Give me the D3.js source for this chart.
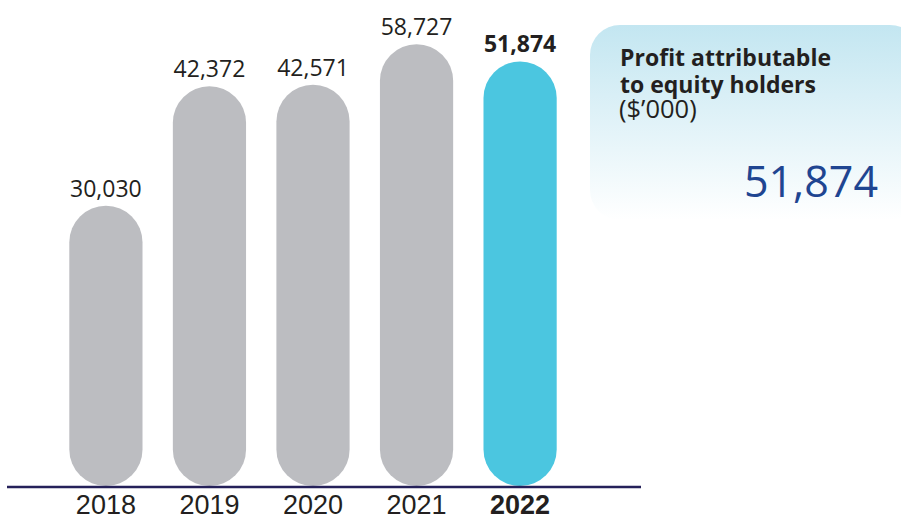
<!DOCTYPE html>
<html>
<head>
<meta charset="utf-8">
<script src="https://cdn.jsdelivr.net/npm/d3@7"></script>
<style>
  body { margin: 0; background: #fff; }
</style>
</head>
<body>
<script>
'use strict'

let width = 901
let height = 520

// data
let years = ["2018", "2019", "2020", "2021", "2022"]
let profits = [30030, 42372, 42571, 58727, 51874]
let currentYear = "2022"
let boxTitle = ["Profit attributable", "to equity holders"]
let boxUnit = "($\u2019000)"
let boxValue = 51874

let baseY = 486
let fmt = d3.format(",")

let svg = d3.select("body").append("svg")
  .attr("width", width)
  .attr("height", height)

// gradient for the info box
let defs = svg.append("defs")
let grad = defs.append("linearGradient")
  .attr("id", "boxGrad")
  .attr("x1", 0).attr("y1", 0).attr("x2", 0).attr("y2", 1)
grad.append("stop").attr("offset", "0%").attr("stop-color", "#c3e6f1")
grad.append("stop").attr("offset", "100%").attr("stop-color", "#ffffff")

// x: band per year
let x = d3.scaleBand()
  .domain(years)
  .range([69.3, 556.7])
  .paddingInner(0.293)
  .paddingOuter(0)

// y: the drawing is not proportional, so a piecewise linear scale
let y = d3.scaleLinear()
  .domain([0, 30000, 42500, 60000])
  .range([baseY, 206, 85, 41])

// bars (pill shaped)
svg.selectAll("rect.bar")
  .data(profits)
  .enter()
  .append("rect")
  .attr("class", "bar")
  .attr("x", (d, i) => x(years[i]))
  .attr("y", d => y(d))
  .attr("width", x.bandwidth())
  .attr("height", d => baseY - y(d))
  .attr("rx", x.bandwidth() / 2)
  .attr("ry", x.bandwidth() / 2)
  .style("fill", (d, i) => years[i] == currentYear ? "#4bc6e0" : "#bcbdc1")

// value labels
svg.selectAll("text.val")
  .data(profits)
  .enter()
  .append("text")
  .attr("class", "val")
  .attr("x", (d, i) => x(years[i]) + x.bandwidth() / 2)
  .attr("y", d => y(d) - 9)
  .attr("text-anchor", "middle")
  .style("font-family", "'Open Sans', sans-serif")
  .style("font-size", "23px")
  .style("font-weight", (d, i) => years[i] == currentYear ? "bold" : "normal")
  .style("fill", "#231f20")
  .text(d => fmt(d))

// baseline
svg.append("line")
  .attr("x1", 7).attr("x2", 641)
  .attr("y1", baseY + 1).attr("y2", baseY + 1)
  .style("stroke", "#25215a")
  .style("stroke-width", 2.5)

// year labels
svg.selectAll("text.year")
  .data(years)
  .enter()
  .append("text")
  .attr("class", "year")
  .attr("x", d => x(d) + x.bandwidth() / 2)
  .attr("y", 514)
  .attr("text-anchor", "middle")
  .style("font-family", "'Liberation Sans', Arial, sans-serif")
  .style("font-size", "27px")
  .style("font-weight", d => d == currentYear ? "bold" : "normal")
  .style("fill", "#231f20")
  .text(d => d)

// info box
let box = svg.append("g")
box.append("rect")
  .attr("x", 590).attr("y", 25)
  .attr("width", 330).attr("height", 195)
  .attr("rx", 30).attr("ry", 30)
  .style("fill", "url(#boxGrad)")

// title + unit in one text block
let title = box.append("text")
  .style("font-family", "'Open Sans', sans-serif")
  .style("fill", "#231f20")

title.selectAll("tspan.t")
  .data(boxTitle)
  .enter()
  .append("tspan")
  .attr("class", "t")
  .attr("x", 620)
  .attr("y", (d, i) => 66 + i * 27)
  .style("font-size", "23px")
  .style("font-weight", "bold")
  .text(d => d)

title.append("tspan")
  .attr("x", 619)
  .attr("y", 118)
  .style("font-size", "25.5px")
  .style("font-weight", "normal")
  .text(boxUnit)

box.append("text")
  .attr("x", 878).attr("y", 197)
  .attr("text-anchor", "end")
  .style("font-family", "'Open Sans', sans-serif")
  .style("font-size", "43px")
  .style("fill", "#1f4591")
  .text(fmt(boxValue))
</script>
</body>
</html>
